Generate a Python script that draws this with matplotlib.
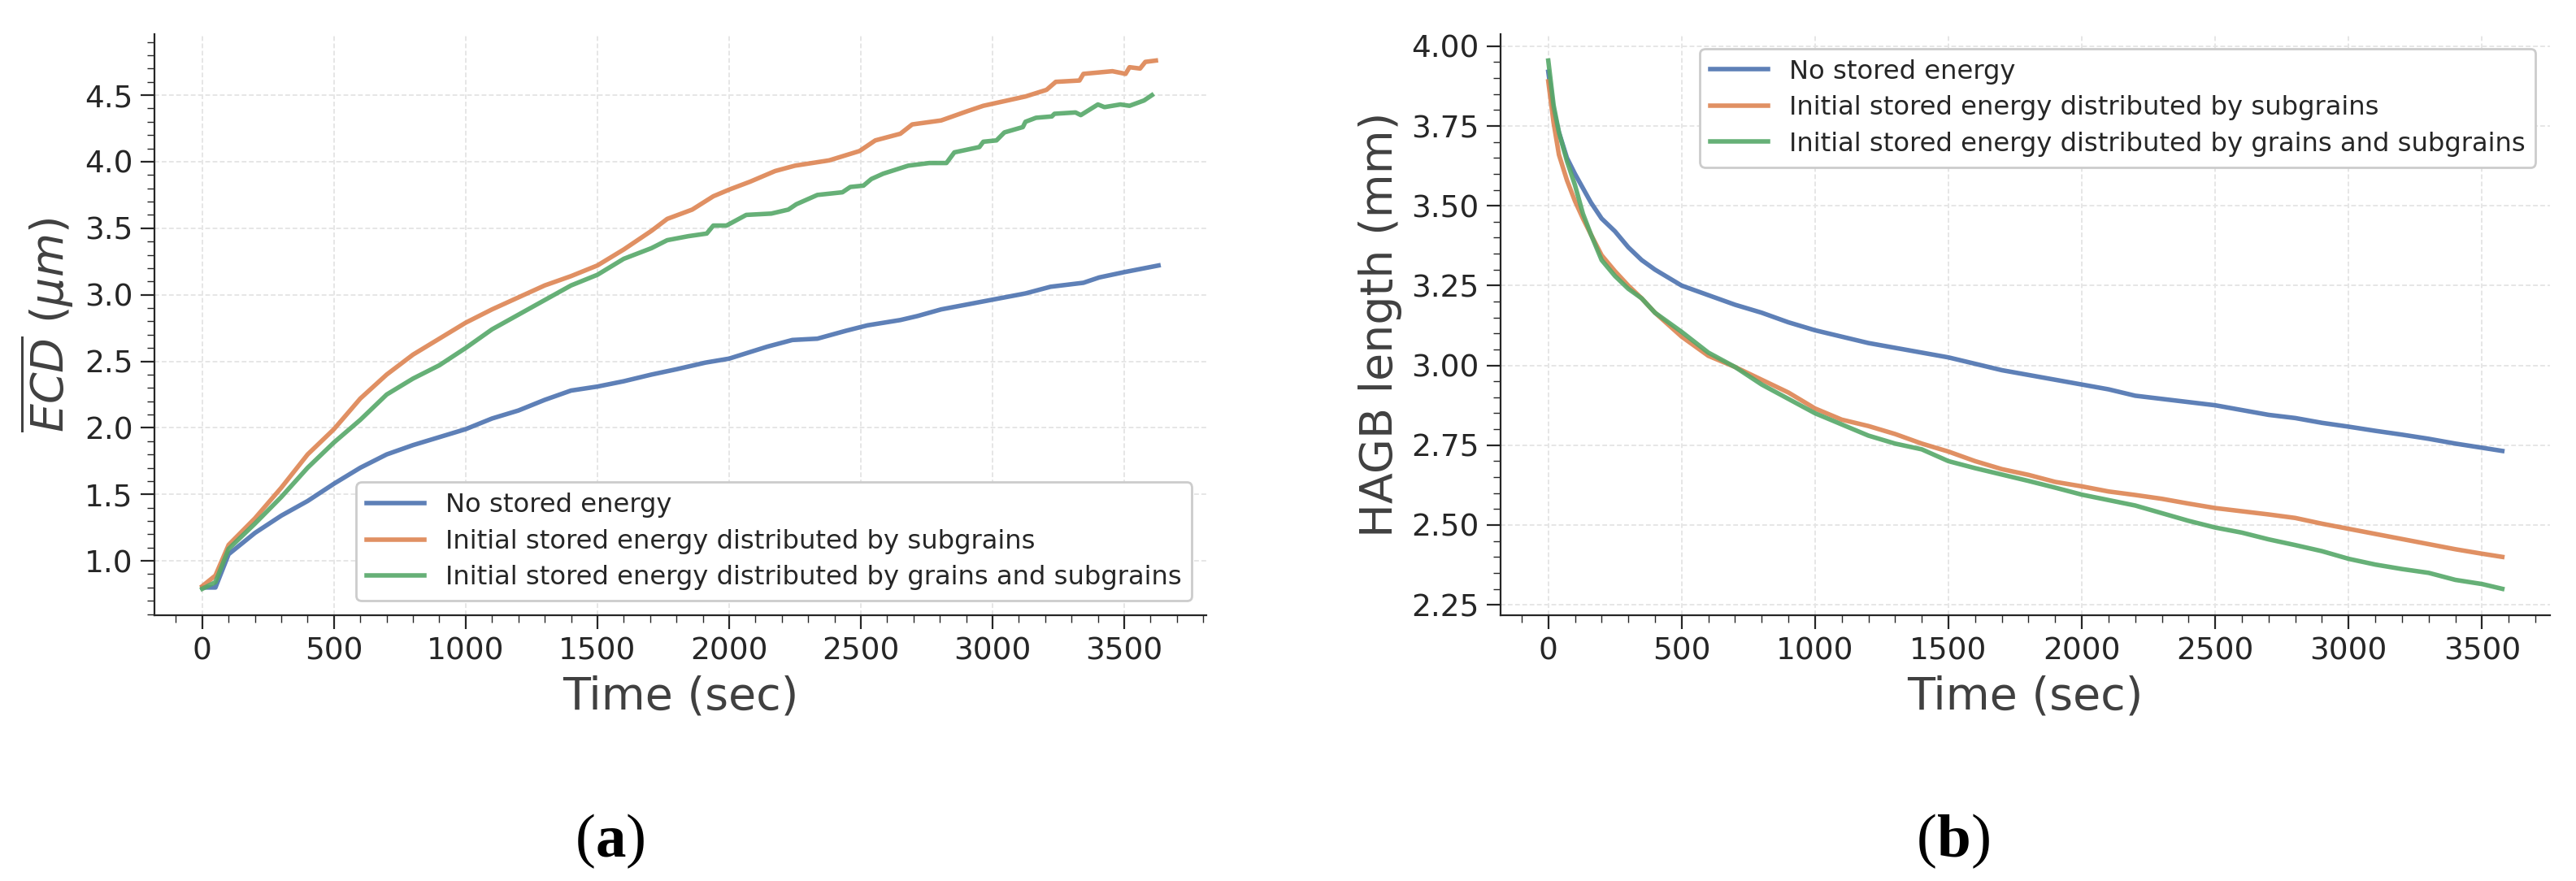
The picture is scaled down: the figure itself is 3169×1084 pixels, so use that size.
import matplotlib
matplotlib.use("Agg")
from matplotlib import pyplot
from matplotlib.ticker import MultipleLocator, FormatStrFormatter

# -----------------------------------------------------------------------------
# values
labels = ["No stored energy",
          "Initial stored energy distributed by subgrains",
          "Initial stored energy distributed by grains and subgrains"]
colors = ["#4C72B0", "#DD8452", "#55A868"]

# (a) mean equivalent circle diameter (um) vs time (sec)
time_early = [0, 50, 100, 200, 300, 400, 500, 600, 700, 800, 900, 1000,
              1100, 1200, 1300, 1400, 1500, 1600]

time_a_none = time_early + [1705, 1800, 1910, 2000, 2145, 2240, 2335, 2445,
                            2525, 2650, 2715, 2805, 2965, 3125, 3220, 3345,
                            3405, 3500, 3630]
ecd_none = [0.80, 0.80, 1.05, 1.21, 1.34, 1.45, 1.58, 1.70, 1.80, 1.87, 1.93,
            1.99, 2.07, 2.13, 2.21, 2.28, 2.31, 2.35,
            2.40, 2.44, 2.49, 2.52, 2.61, 2.66, 2.67, 2.73, 2.77, 2.81, 2.84,
            2.89, 2.95, 3.01, 3.06, 3.09, 3.13, 3.17, 3.22]

time_a_sub = time_early + [1705, 1765, 1860, 1940, 2000, 2080, 2175, 2250,
                           2380, 2495, 2555, 2650, 2695, 2805, 2905, 2965,
                           3125, 3205, 3240, 3330, 3345, 3455, 3505, 3520,
                           3560, 3580, 3620]
ecd_sub = [0.81, 0.89, 1.12, 1.32, 1.55, 1.80, 1.99, 2.22, 2.40, 2.55, 2.67,
           2.79, 2.89, 2.98, 3.07, 3.14, 3.22, 3.34,
           3.48, 3.57, 3.64, 3.74, 3.79, 3.85, 3.93, 3.97, 4.01, 4.08, 4.16,
           4.21, 4.28, 4.31, 4.38, 4.42, 4.49, 4.54, 4.60, 4.61, 4.66, 4.68,
           4.66, 4.71, 4.70, 4.75, 4.76]

time_a_grain = time_early + [1705, 1765, 1845, 1915, 1940, 1990, 2065, 2160,
                             2225, 2255, 2335, 2430, 2460, 2510, 2540, 2585,
                             2680, 2760, 2825, 2855, 2950, 2965, 3015, 3045,
                             3115, 3125, 3165, 3225, 3235, 3315, 3335, 3400,
                             3425, 3485, 3520, 3575, 3605]
ecd_grain = [0.79, 0.84, 1.09, 1.28, 1.48, 1.70, 1.89, 2.06, 2.25, 2.37, 2.47,
             2.60, 2.74, 2.85, 2.96, 3.07, 3.15, 3.27,
             3.35, 3.41, 3.44, 3.46, 3.52, 3.52, 3.60, 3.61, 3.64, 3.68, 3.75,
             3.77, 3.81, 3.82, 3.87, 3.91, 3.97, 3.99, 3.99, 4.07, 4.11, 4.15,
             4.16, 4.22, 4.26, 4.30, 4.33, 4.34, 4.36, 4.37, 4.35, 4.43, 4.41,
             4.43, 4.42, 4.46, 4.50]

# (b) HAGB length (mm) vs time (sec)
time_b = [0, 20, 40, 70, 100, 130, 160, 200, 250, 300, 350, 400, 500, 600,
          700, 800, 900, 1000, 1100, 1200, 1300, 1400, 1500, 1600, 1700, 1800,
          1900, 2000, 2100, 2200, 2300, 2400, 2500, 2600, 2700, 2800, 2900,
          3000, 3100, 3200, 3300, 3400, 3500, 3576]
hagb_none = [3.92, 3.80, 3.73, 3.65, 3.60, 3.555, 3.51, 3.46, 3.42, 3.37, 3.33,
             3.30, 3.25, 3.22, 3.19, 3.165, 3.135, 3.11, 3.09, 3.07, 3.055,
             3.04, 3.025, 3.005, 2.985, 2.97, 2.955, 2.94, 2.925, 2.905, 2.895,
             2.885, 2.875, 2.86, 2.845, 2.835, 2.82, 2.808, 2.795, 2.783, 2.77,
             2.755, 2.742, 2.732]
hagb_sub = [3.89, 3.76, 3.66, 3.58, 3.515, 3.46, 3.41, 3.345, 3.295, 3.25,
            3.21, 3.165, 3.09, 3.03, 2.995, 2.955, 2.915, 2.865, 2.83, 2.81,
            2.785, 2.755, 2.73, 2.70, 2.675, 2.657, 2.635, 2.621, 2.605, 2.594,
            2.582, 2.567, 2.553, 2.543, 2.533, 2.522, 2.504, 2.488, 2.472,
            2.456, 2.44, 2.424, 2.41, 2.40]
hagb_grain = [3.955, 3.815, 3.73, 3.64, 3.565, 3.475, 3.41, 3.33, 3.28, 3.24,
              3.21, 3.165, 3.105, 3.04, 2.995, 2.94, 2.895, 2.85, 2.815, 2.78,
              2.755, 2.737, 2.70, 2.678, 2.658, 2.638, 2.617, 2.595, 2.578,
              2.561, 2.537, 2.513, 2.492, 2.476, 2.455, 2.437, 2.418, 2.394,
              2.376, 2.362, 2.35, 2.328, 2.315, 2.30]

# -----------------------------------------------------------------------------
pyplot.rcParams['font.family'] = ['DejaVu Sans']

dark = '#262626'
label_col = '#404040'


def style_axes(ax, ymajor, yminor):
    """ common look of both panels """
    ax.spines['top'].set_visible(False)
    ax.spines['right'].set_visible(False)
    for s in ('left', 'bottom'):
        ax.spines[s].set_linewidth(0.8)
        ax.spines[s].set_color(dark)

    ax.xaxis.set_major_locator(MultipleLocator(500))
    ax.xaxis.set_minor_locator(MultipleLocator(100))
    ax.yaxis.set_major_locator(MultipleLocator(ymajor))
    ax.yaxis.set_minor_locator(MultipleLocator(yminor))

    ax.tick_params(which='major', length=6, width=0.8, labelsize=13.5,
                   color=dark, labelcolor=dark, direction='out')
    ax.tick_params(which='minor', length=3.2, width=0.5, color=dark,
                   direction='out')

    ax.grid(which='major', color='#e6e6e6', linestyle=(0, (3, 1.6)),
            linewidth=0.7)
    ax.set_axisbelow(True)
    ax.set_xlabel('Time (sec)', fontsize=20, color=label_col)


def add_legend(ax, loc):
    leg = ax.legend(loc=loc, fontsize=11.6, framealpha=1.0,
                    edgecolor='#cccccc', labelspacing=0.42,
                    handlelength=2.2, borderaxespad=0.55)
    leg.get_frame().set_linewidth(1.0)
    for t in leg.get_texts():
        t.set_color(dark)
    return leg


def caption(fig, xc, yb, letter):
    """ '(a)' style caption: serif, bold letter, plain brackets """
    r = fig.canvas.get_renderer()
    parts = [('(', 'normal'), (letter, 'bold'), (')', 'normal')]
    texts = [fig.text(0, yb, s, fontsize=27, family='Liberation Serif',
                      weight=w, va='baseline', ha='left', color='black')
             for s, w in parts]
    widths = [t.get_window_extent(r).width for t in texts]
    x = xc * fig.bbox.width - sum(widths) / 2
    for t, w in zip(texts, widths):
        t.set_x(x / fig.bbox.width)
        x += w


fig = pyplot.figure(figsize=(3169 / 200, 1084 / 200), dpi=200)
ax1 = fig.add_axes([0.05996, 0.30166, 0.40833, 0.65959])
ax2 = fig.add_axes([0.58252, 0.30166, 0.40739, 0.65959])

# panel (a)
series_a = [(time_a_none, ecd_none), (time_a_sub, ecd_sub),
            (time_a_grain, ecd_grain)]
for (t, y), c, lab in zip(series_a, colors, labels):
    ax1.plot(t, y, color=c, lw=2.0, alpha=0.9, label=lab)
style_axes(ax1, 0.5, 0.1)
ax1.yaxis.set_major_formatter(FormatStrFormatter('%.1f'))
ax1.set_ylabel(r'$\overline{ECD}$ $(\mu m)$', fontsize=20, color=label_col)
add_legend(ax1, 'lower right')

# panel (b)
for y, c, lab in zip([hagb_none, hagb_sub, hagb_grain], colors, labels):
    ax2.plot(time_b, y, color=c, lw=2.0, alpha=0.9, label=lab)
style_axes(ax2, 0.25, 0.05)
ax2.yaxis.set_major_formatter(FormatStrFormatter('%.2f'))
ax2.set_ylabel('HAGB length (mm)', fontsize=20, color=label_col)
add_legend(ax2, 'upper right')

# sub-figure captions
caption(fig, 751 / 3169, 1 - 1053 / 1084, 'a')
caption(fig, 2404 / 3169, 1 - 1053 / 1084, 'b')

pyplot.savefig('out.png', dpi=200)
